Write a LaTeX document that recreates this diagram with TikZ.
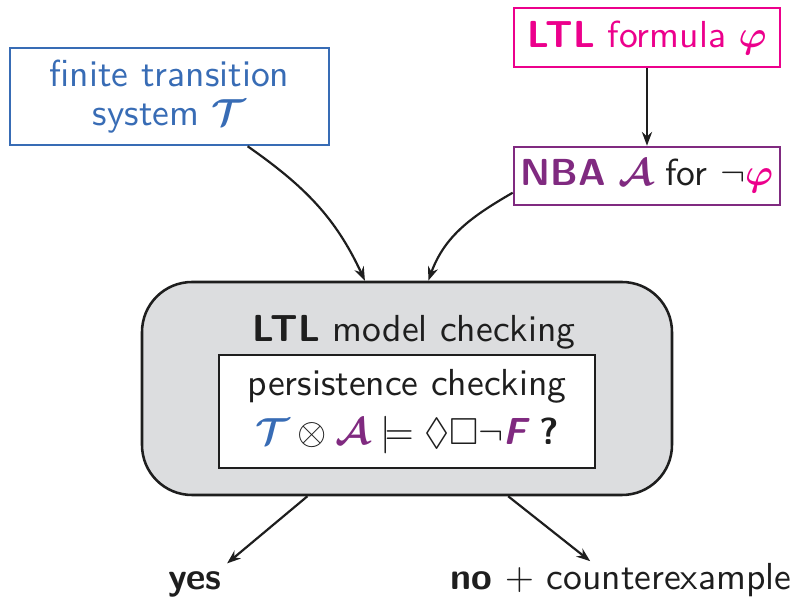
\RequirePackage{fix-cm}
\documentclass[tikz,border=0pt]{standalone}
\usepackage{amsmath,amssymb}
\usetikzlibrary{arrows.meta,calc}
\renewcommand{\familydefault}{\sfdefault}
\definecolor{tsblue}{RGB}{56,108,181}
\definecolor{ltlmag}{RGB}{236,0,140}
\definecolor{nbapur}{RGB}{128,42,128}
\definecolor{boxgray}{RGB}{220,221,223}
\definecolor{ink}{RGB}{30,30,30}
\newdimen\px \px=0.275pt
\begin{document}
\begin{tikzpicture}[x=0.275pt,y=0.275pt,
  font=\fontsize{10.35}{12.4}\selectfont,
  box/.style={draw, line width=0.7pt, inner sep=0pt, align=center},
  arr/.style={-{Stealth[length=3.8pt,width=2.8pt]}, line width=0.6pt, draw=ink}]
\useasboundingbox (0,0) rectangle (793,-600);

\node[box, draw=tsblue, text=tsblue, minimum width=319*\px, minimum height=97*\px] (ts) at (169.5,-96.5)
  {finite transition\\[-1.8pt] system $\boldsymbol{\mathcal{T}}$};
\node[box, draw=ltlmag, text=ltlmag, minimum width=266*\px, minimum height=59*\px] (ltl) at (647,-37.5)
  {\textbf{LTL} formula $\boldsymbol{\varphi}$};
\node[box, draw=nbapur, text=ink, minimum width=266*\px, minimum height=58*\px] (nba) at (647,-176)
  {\textcolor{nbapur}{\textbf{NBA} $\boldsymbol{\mathcal{A}}$} for $\neg\textcolor{ltlmag}{\boldsymbol{\varphi}}$};

\node[draw=ink, fill=boxgray, line width=0.7pt, rounded corners=50*\px, inner sep=0pt,
  minimum width=530*\px, minimum height=213*\px] (mc) at (407,-388.5) {};
\node[anchor=base, text=ink, inner sep=0pt] (mch) at (414,-342) {\textbf{LTL} model checking};
\node[box, draw=ink, fill=white, text=ink, minimum width=376*\px, minimum height=113*\px] (pc) at (407,-411.5)
  {persistence checking\\[1.2pt]
   $\textcolor{tsblue}{\boldsymbol{\mathcal{T}}} \otimes \textcolor{nbapur}{\boldsymbol{\mathcal{A}}} \models \lozenge\Box\neg \textcolor{nbapur}{\text{\bfseries\itshape F}}$ \textbf{?}};

\node[anchor=base, text=ink, inner sep=0pt] (yes) at (195,-590) {\textbf{yes}};
\node[anchor=base, text=ink, inner sep=0pt] (no) at (621,-590) {\textbf{no} $+$ counterexample};

\draw[arr] ($(ts.south west)!0.743!(ts.south east)$) to[out=-35,in=115] ($(mc.north west)!0.421!(mc.north east)$);
\draw[arr] ($(nba.north west)!0.776!(nba.south west)$) to[out=210,in=70] ($(mc.north west)!0.54!(mc.north east)$);
\draw[arr] (ltl.south) -- (nba.north);
\draw[arr] ($(mc.south west)!0.313!(mc.south east)$) -- ($(yes.north east)+(5,8)$);
\draw[arr] ($(mc.south west)!0.69!(mc.south east)$) -- ($(no.north west)!0.41!(no.north east)+(0,2)$);
\end{tikzpicture}
\end{document}
